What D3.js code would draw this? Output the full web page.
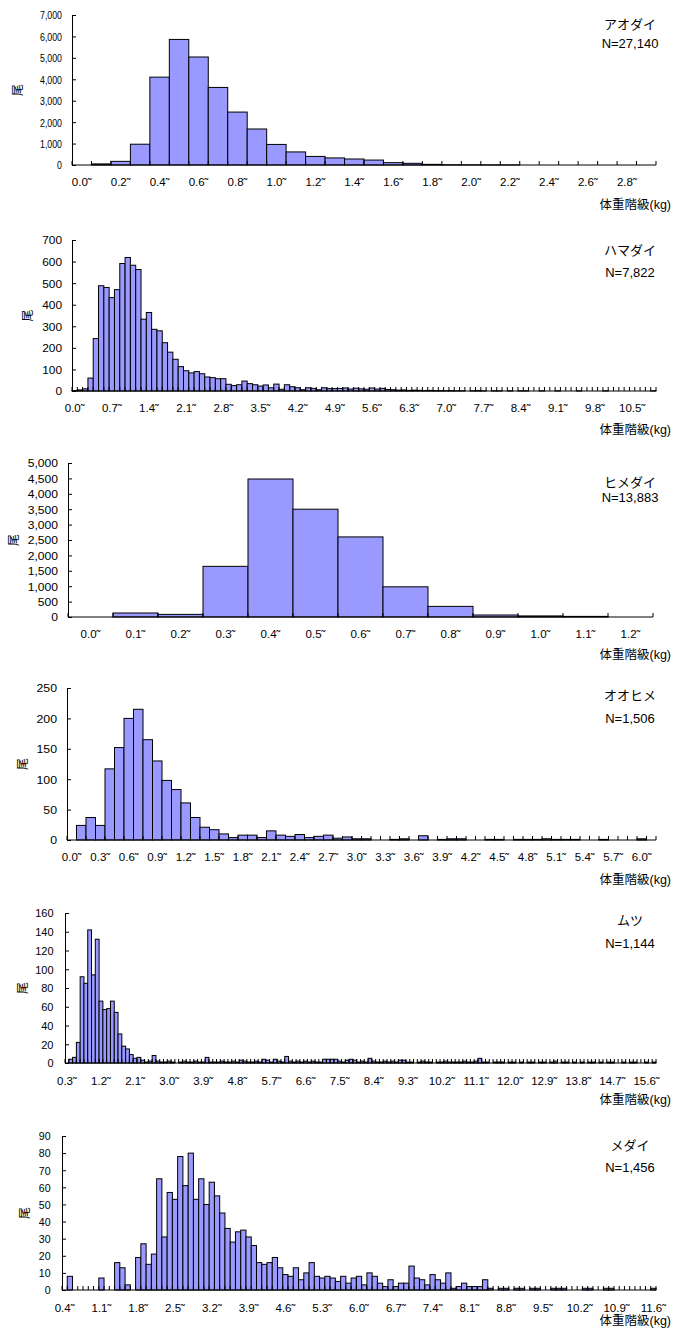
<!DOCTYPE html>
<html>
<head>
<meta charset="utf-8">
<script src="https://cdn.jsdelivr.net/npm/d3@7"></script>
<style>
    body { margin: 0; background: #fff; }
    svg { display: block; font-family: "Liberation Sans", Arial, "Noto Sans CJK JP", sans-serif; }
</style>
</head>
<body>
<svg id="chart" width="681" height="1330"></svg>
<script>
// counts per 0.1kg weight class
const aodaiCounts = [0, 50, 170, 970, 4100, 5860, 5040, 3620, 2470, 1680, 960, 610, 400, 330, 280, 230, 110, 80, 30, 10,
    8, 6, 4, 0, 0, 0, 0, 0, 0, 0];
const aodaiTicks = ["0.0", "0.2", "0.4", "0.6", "0.8", "1.0", "1.2", "1.4", "1.6", "1.8", "2.0", "2.2", "2.4", "2.6", "2.8"];
const aodaiYTicks = [0, 1000, 2000, 3000, 4000, 5000, 6000, 7000];

const hamadaiCounts = [2, 5, 10, 60, 243, 488, 480, 433, 470, 591, 619, 583, 563, 333, 364, 286, 279, 224, 180, 147,
    113, 94, 84, 90, 80, 65, 62, 57, 57, 31, 25, 29, 46, 34, 29, 23, 28, 15, 32, 8,
    29, 20, 15, 6, 15, 12, 6, 15, 11, 11, 12, 14, 9, 13, 10, 8, 14, 9, 12, 7,
    6, 4, 5, 3, 4, 3, 2, 3, 2, 2, 1, 2, 1, 1, 0, 1, 2, 1, 0, 1,
    1, 0, 1, 0, 1, 1, 0, 0, 1, 0, 0, 1, 0, 0, 0, 1, 0, 0, 0, 0,
    1, 0, 0, 0, 0, 0, 0, 0, 0, 1];
const hamadaiTicks = ["0.0", "0.7", "1.4", "2.1", "2.8", "3.5", "4.2", "4.9", "5.6", "6.3", "7.0", "7.7", "8.4", "9.1", "9.8", "10.5"];
const hamadaiYTicks = [0, 100, 200, 300, 400, 500, 600, 700];

const himedaiCounts = [0, 130, 85, 1645, 4480, 3500, 2600, 980, 345, 65, 35, 20, 0];
const himedaiTicks = ["0.0", "0.1", "0.2", "0.3", "0.4", "0.5", "0.6", "0.7", "0.8", "0.9", "1.0", "1.1", "1.2"];
const himedaiYTicks = [0, 500, 1000, 1500, 2000, 2500, 3000, 3500, 4000, 4500, 5000];

const oohimeCounts = [0, 24, 37, 24, 117, 152, 200, 215, 165, 130, 98, 83, 61, 37, 21, 17, 10, 4, 8, 8,
    4, 15, 8, 6, 9, 4, 6, 8, 3, 5, 2, 2, 0, 0, 1, 2, 0, 7, 0, 1,
    2, 2, 0, 0, 1, 1, 0, 1, 1, 1, 2, 1, 1, 1, 0, 0, 1, 0, 0, 0,
    2, 0];
const oohimeTicks = ["0.0", "0.3", "0.6", "0.9", "1.2", "1.5", "1.8", "2.1", "2.4", "2.7", "3.0", "3.3", "3.6", "3.9", "4.2",
    "4.5", "4.8", "5.1", "5.4", "5.7", "6.0"];
const oohimeYTicks = [0, 50, 100, 150, 200, 250];

const mutsuCounts = [0, 4, 6, 22, 92, 85, 142, 94, 132, 66, 57, 58, 66, 54, 31, 18, 15, 9, 5, 6,
    3, 1, 2, 8, 2, 1, 1, 2, 1, 0, 1, 2, 1, 1, 2, 1, 1, 6, 1, 1,
    1, 2, 1, 1, 2, 1, 3, 2, 1, 1, 2, 1, 4, 3, 1, 4, 2, 1, 7, 2,
    1, 2, 1, 2, 1, 2, 1, 1, 4, 4, 4, 4, 2, 1, 3, 4, 3, 1, 2, 1,
    5, 2, 1, 1, 2, 1, 2, 1, 3, 3, 1, 1, 0, 1, 2, 1, 1, 0, 1, 1,
    2, 1, 1, 1, 1, 2, 1, 1, 2, 5, 1, 1, 0, 1, 1, 1, 0, 1, 1, 0,
    1, 0, 1, 1, 0, 1, 1, 0, 1, 2, 0, 1, 1, 0, 1, 0, 1, 0, 1, 1,
    0, 1, 0, 1, 1, 0, 0, 1, 0, 1, 1, 0, 0, 1, 0, 1];
const mutsuTicks = ["0.3", "1.2", "2.1", "3.0", "3.9", "4.8", "5.7", "6.6", "7.5", "8.4", "9.3", "10.2", "11.1", "12.0",
    "12.9", "13.8", "14.7", "15.6"];
const mutsuYTicks = [0, 20, 40, 60, 80, 100, 120, 140, 160];

const medaiCounts = [0, 8, 0, 0, 0, 0, 0, 7, 0, 0, 16, 13, 3, 0, 19, 27, 15, 21, 65, 31,
    57, 53, 78, 61, 80, 53, 65, 50, 63, 55, 45, 36, 28, 34, 35, 31, 26, 16, 15, 16,
    19, 13, 9, 8, 13, 6, 10, 16, 8, 7, 8, 7, 5, 8, 4, 7, 8, 3, 10, 8,
    4, 2, 6, 2, 4, 4, 14, 7, 6, 3, 9, 6, 4, 10, 1, 2, 4, 2, 2, 2,
    6, 1, 0, 1, 1, 0, 1, 1, 0, 1, 1, 0, 0, 1, 1, 1, 0, 0, 0, 1,
    1, 0, 0, 1, 1, 0, 0, 0, 0, 0, 0, 0, 1];
const medaiTicks = ["0.4", "1.1", "1.8", "2.5", "3.2", "3.9", "4.6", "5.3", "6.0", "6.7", "7.4", "8.1", "8.8", "9.5",
    "10.2", "10.9", "11.6"];
const medaiYTicks = [0, 10, 20, 30, 40, 50, 60, 70, 80, 90];

const panels = [
    {name: "アオダイ", total: "N=27,140", start: 0.0, counts: aodaiCounts, ticks: aodaiTicks, yTicks: aodaiYTicks,
        left: 72, right: 656, top: 15, bottom: 165, titleY: 205, nameY: 24, totalY: 43, unitX: 18, ySx: 0.8, yGap: 10},
    {name: "ハマダイ", total: "N=7,822", start: 0.0, counts: hamadaiCounts, ticks: hamadaiTicks, yTicks: hamadaiYTicks,
        left: 72, right: 656, top: 240, bottom: 391, titleY: 430, nameY: 250, totalY: 272, unitX: 28, ySx: 1.08, yGap: 10},
    {name: "ヒメダイ", total: "N=13,883", start: 0.0, counts: himedaiCounts, ticks: himedaiTicks, yTicks: himedaiYTicks,
        left: 68, right: 653, top: 463, bottom: 617, titleY: 655, nameY: 482, totalY: 497, unitX: 14, ySx: 1.1, yGap: 10},
    {name: "オオヒメ", total: "N=1,506", start: 0.0, counts: oohimeCounts, ticks: oohimeTicks, yTicks: oohimeYTicks,
        left: 67, right: 656, top: 688, bottom: 840, titleY: 880, nameY: 695, totalY: 718, unitX: 23, ySx: 1.12, yGap: 10},
    {name: "ムツ", total: "N=1,144", start: 0.3, counts: mutsuCounts, ticks: mutsuTicks, yTicks: mutsuYTicks,
        left: 65, right: 656, top: 913, bottom: 1063, titleY: 1100, nameY: 920, totalY: 943, unitX: 23, ySx: 1.0, yGap: 11.5},
    {name: "メダイ", total: "N=1,456", start: 0.4, counts: medaiCounts, ticks: medaiTicks, yTicks: medaiYTicks,
        left: 62, right: 656, top: 1136, bottom: 1290, titleY: 1321, nameY: 1145, totalY: 1167, unitX: 25, ySx: 0.96, yGap: 11.5}
];

const svg = d3.select("#chart");

panels.forEach(p => drawPanel(p));

function drawPanel(p) {
    const cats = p.counts.map((c, i) => (p.start + i * 0.1).toFixed(1));
    const bars = p.counts.map((c, i) => ({cat: cats[i], count: c})).filter(d => d.count > 0);

    const x = d3.scaleBand()
        .domain(cats)
        .range([p.left, p.right]);

    const y = d3.scaleLinear()
        .domain([0, d3.max(p.yTicks)])
        .range([p.bottom, p.top]);

    const g = svg.append("g");

    g.selectAll("rect.bar")
        .data(bars)
        .join("rect")
        .attr("class", "bar")
        .attr("x", d => x(d.cat))
        .attr("y", d => y(d.count))
        .attr("width", x.bandwidth())
        .attr("height", d => y(0) - y(d.count))
        .attr("fill", "#9999ff")
        .attr("stroke", "#000")
        .attr("stroke-width", 1);

    // x axis line with a small tick at every class boundary
    g.append("line")
        .attr("x1", p.left)
        .attr("x2", p.right)
        .attr("y1", y(0))
        .attr("y2", y(0))
        .attr("stroke", "#000");

    g.selectAll("line.boundary")
        .data(cats.map(c => x(c)).concat([x(cats[cats.length - 1]) + x.bandwidth()]))
        .join("line")
        .attr("class", "boundary")
        .attr("x1", d => d)
        .attr("x2", d => d)
        .attr("y1", y(0))
        .attr("y2", y(0) - 4)
        .attr("stroke", "#000");

    const xAxis = g.append("g")
        .attr("transform", "translate(0," + y(0) + ")")
        .call(d3.axisBottom(x).tickValues(p.ticks).tickSize(0).tickFormat(d => d + "˜"))
        .attr("font-size", null)
        .attr("font-family", null);

    xAxis.select(".domain").remove();
    xAxis.selectAll("text")
        .attr("y", y(0) < 1000 ? 17 : 18)
        .attr("dy", "0.35em")
        .style("font-size", "11.5px")
        .attr("fill", "#000");

    const yAxis = g.append("g")
        .attr("transform", "translate(" + p.left + ",0)")
        .call(d3.axisLeft(y).tickValues(p.yTicks).tickSize(-4).tickSizeOuter(0).tickFormat(d3.format(",")))
        .attr("font-size", null)
        .attr("font-family", null);

    yAxis.select(".domain").attr("stroke", "#000");
    yAxis.selectAll("line").attr("stroke", "#000");
    yAxis.selectAll("text")
        .attr("x", -p.yGap / p.ySx)
        .attr("dy", "0.35em")
        .attr("transform", "scale(" + p.ySx + ",1)")
        .style("font-size", "11px")
        .attr("fill", "#000");

    g.append("text")
        .attr("transform", "translate(" + p.unitX + "," + (p.top + p.bottom) / 2 + ") rotate(-90)")
        .attr("text-anchor", "middle")
        .attr("dy", "0.35em")
        .style("font-size", "12px")
        .text("尾");

    g.append("text")
        .attr("x", 671)
        .attr("y", p.titleY)
        .attr("dy", "0.35em")
        .attr("text-anchor", "end")
        .style("font-size", "12.5px")
        .text("体重階級(kg)");

    g.append("text")
        .attr("x", 630)
        .attr("y", p.nameY)
        .attr("dy", "0.35em")
        .attr("text-anchor", "middle")
        .style("font-size", "13px")
        .text(p.name);

    g.append("text")
        .attr("x", 630)
        .attr("y", p.totalY)
        .attr("dy", "0.35em")
        .attr("text-anchor", "middle")
        .style("font-size", "13px")
        .text(p.total);
}
</script>
</body>
</html>
